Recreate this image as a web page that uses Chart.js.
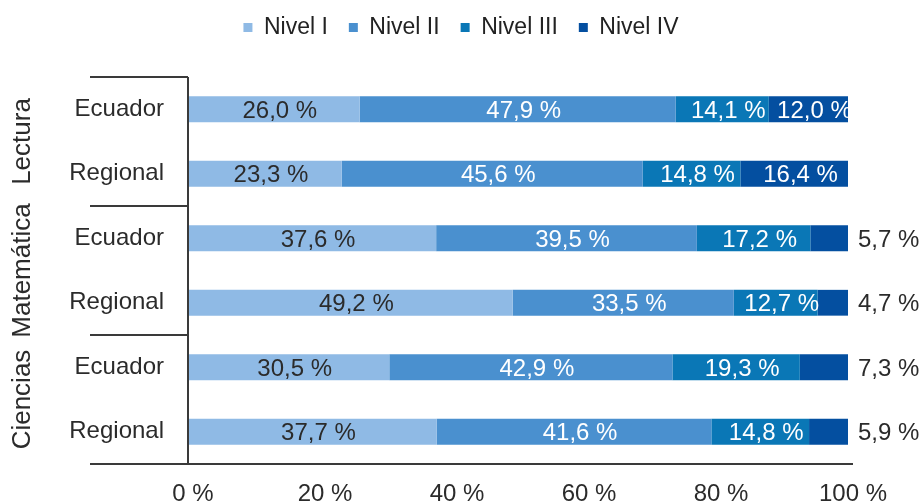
<!DOCTYPE html>
<html>
<head>
<meta charset="utf-8">
<script src="https://cdn.jsdelivr.net/npm/chart.js@4.4.0/dist/chart.umd.min.js"></script>
<style>
    html, body { margin: 0; padding: 0; background: #fff; }
    #wrap { width: 922px; height: 502px; position: relative; }
</style>
</head>
<body>
<div id="wrap"><canvas id="chart"></canvas></div>
<script>
// datos
const categories = ['Ecuador', 'Regional', 'Ecuador', 'Regional', 'Ecuador', 'Regional'];
const groups = ['Lectura', 'Matemática', 'Ciencias'];
const seriesNames = ['Nivel I', 'Nivel II', 'Nivel III', 'Nivel IV'];
const nivel1 = [26.0, 23.3, 37.6, 49.2, 30.5, 37.7];
const nivel2 = [47.9, 45.6, 39.5, 33.5, 42.9, 41.6];
const nivel3 = [14.1, 14.8, 17.2, 12.7, 19.3, 14.8];
const nivel4 = [12.0, 16.4, 5.7, 4.7, 7.3, 5.9];
const xTicks = [0, 20, 40, 60, 80, 100];

const colors = ['#8fbae5', '#4a90cf', '#0a77b6', '#044fa0'];
const labelColors = ['#2b2b2b', '#ffffff', '#ffffff', '#ffffff'];
const FONT = "'Liberation Sans', Arial, sans-serif";
const lineColor = '#3a3a3a';

const fmt = v => v.toFixed(1).replace('.', ',') + ' %';

// etiquetas de valores dentro / fuera de las barras
const valueLabels = {
    id: 'valueLabels',
    afterDatasetsDraw(chart) {
        const ctx = chart.ctx;
        const area = chart.chartArea;
        ctx.save();
        ctx.font = '24px ' + FONT;
        ctx.textBaseline = 'middle';
        chart.data.datasets.forEach((ds, di) => {
            const meta = chart.getDatasetMeta(di);
            meta.data.forEach((bar, i) => {
                const v = ds.data[i];
                if (di === 3 && v < 10) {
                    ctx.fillStyle = '#2b2b2b';
                    ctx.textAlign = 'left';
                    ctx.fillText(fmt(v), area.right + 10, bar.y + 2);
                } else {
                    ctx.fillStyle = labelColors[di];
                    ctx.textAlign = 'center';
                    ctx.fillText(fmt(v), (bar.x + bar.base) / 2 + 6, bar.y + 2);
                }
            });
        });
        ctx.restore();
    }
};

// líneas del eje y rótulos de grupo
const groupAxis = {
    id: 'groupAxis',
    beforeInit(chart) {
        // mover la leyenda arriba y centrarla en el ancho total
        const legend = chart.legend;
        if (legend) {
            const origDraw = legend.draw.bind(legend);
            legend.draw = function() {
                chart.ctx.save();
                chart.ctx.translate(37, -28);
                origDraw();
                chart.ctx.restore();
            };
        }
    },
    afterDraw(chart) {
        const ctx = chart.ctx;
        const area = chart.chartArea;
        const y = chart.scales.y;
        const leftX = 90;
        ctx.save();
        ctx.strokeStyle = lineColor;
        ctx.lineWidth = 2;
        ctx.beginPath();
        ctx.moveTo(area.left, area.top);
        ctx.lineTo(area.left, area.bottom);
        ctx.moveTo(leftX, area.top);
        ctx.lineTo(area.left, area.top);
        for (let g = 1; g < groups.length; g++) {
            const yy = (y.getPixelForValue(g * 2 - 1) + y.getPixelForValue(g * 2)) / 2;
            ctx.moveTo(leftX, yy);
            ctx.lineTo(area.left, yy);
        }
        ctx.moveTo(leftX, area.bottom);
        ctx.lineTo(area.right + 5, area.bottom);
        ctx.stroke();

        ctx.fillStyle = '#2b2b2b';
        ctx.font = '26px ' + FONT;
        ctx.textAlign = 'center';
        ctx.textBaseline = 'middle';
        groups.forEach((name, g) => {
            const cy = (y.getPixelForValue(g * 2) + y.getPixelForValue(g * 2 + 1)) / 2;
            ctx.save();
            ctx.translate(23, cy);
            ctx.rotate(-Math.PI / 2);
            ctx.fillText(name, 0, 0);
            ctx.restore();
        });
        ctx.restore();
    }
};

const datasets = [nivel1, nivel2, nivel3, nivel4].map((d, i) => ({
    label: seriesNames[i],
    data: d,
    backgroundColor: colors[i],
    borderWidth: 0,
    barPercentage: 0.4,
    categoryPercentage: 1
}));

new Chart(document.getElementById('chart'), {
    type: 'bar',
    data: { labels: categories, datasets: datasets },
    plugins: [valueLabels, groupAxis],
    options: {
        indexAxis: 'y',
        responsive: true,
        maintainAspectRatio: false,
        animation: false,
        layout: { padding: { top: 23, right: 74, bottom: 0, left: 0 } },
        plugins: {
            tooltip: { enabled: false },
            legend: {
                position: 'top',
                labels: {
                    boxWidth: 9,
                    boxHeight: 9,
                    padding: 21,
                    color: '#222',
                    font: { family: FONT, size: 23 }
                }
            }
        },
        scales: {
            x: {
                stacked: true,
                min: 0,
                max: 100,
                grid: { display: false },
                border: { display: false },
                afterBuildTicks: s => { s.ticks = xTicks.map(v => ({ value: v })); },
                afterFit: s => { s.height = 38; },
                ticks: {
                    color: '#2b2b2b',
                    padding: 8,
                    labelOffset: 5,
                    font: { family: FONT, size: 24 },
                    callback: v => v + ' %'
                }
            },
            y: {
                stacked: true,
                grid: { display: false },
                border: { display: false },
                afterFit: s => { s.width = 188; },
                ticks: {
                    color: '#2b2b2b',
                    padding: 16,
                    font: { family: FONT, size: 24 }
                }
            }
        }
    }
});
</script>
</body>
</html>
